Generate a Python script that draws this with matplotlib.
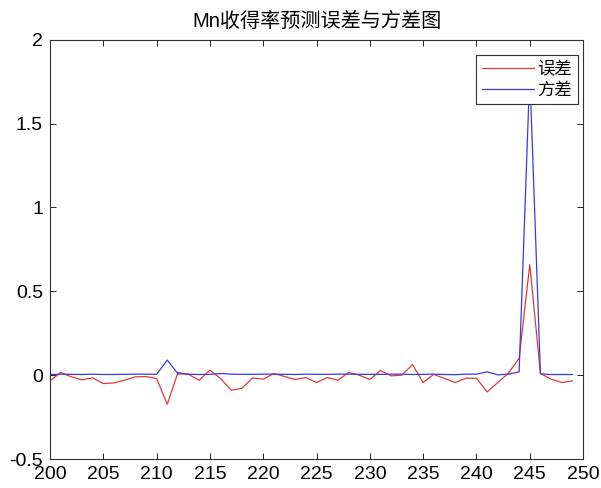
import matplotlib.pyplot as plt

plt.rcParams['font.family'] = ['Liberation Sans', 'Noto Sans CJK SC', 'DejaVu Sans']

# 样本序号 200..249
x = list(range(200, 250))

# 误差
err = [-0.034, 0.016, -0.010, -0.028, -0.016, -0.050, -0.046, -0.030, -0.010, -0.008,
       -0.020, -0.173, 0.016, 0.005, -0.030, 0.030, -0.020, -0.090, -0.078, -0.016,
       -0.024, 0.010, -0.008, -0.026, -0.014, -0.044, -0.014, -0.030, 0.016, 0.000,
       -0.026, 0.028, -0.004, 0.000, 0.063, -0.044, 0.005, -0.020, -0.044, -0.018,
       -0.018, -0.100, -0.044, 0.012, 0.100, 0.660, 0.010, -0.024, -0.044, -0.034]

# 方差
var = [0.004, 0.006, 0.005, 0.004, 0.006, 0.004, 0.004, 0.005, 0.006, 0.006,
       0.005, 0.090, 0.008, 0.006, 0.004, 0.005, 0.010, 0.006, 0.005, 0.005,
       0.006, 0.006, 0.005, 0.004, 0.006, 0.005, 0.005, 0.006, 0.006, 0.005,
       0.005, 0.005, 0.006, 0.006, 0.004, 0.005, 0.006, 0.004, 0.003, 0.006,
       0.006, 0.020, 0.002, 0.006, 0.020, 1.800, 0.008, 0.004, 0.004, 0.004]

fig = plt.figure(figsize=(6.01, 4.88), dpi=100)
ax = fig.add_axes([0.0832, 0.0594, 0.887, 0.859])

ax.plot(x, err, color='#e03a3a', lw=0.9, label='误差')
ax.plot(x, var, color='#3a3ae0', lw=0.9, label='方差')

ax.set_xlim(200, 250)
ax.set_ylim(-0.5, 2)
ax.set_xticks(range(200, 251, 5))
ax.set_yticks([-0.5, 0, 0.5, 1, 1.5, 2])
ax.set_yticklabels(['-0.5', '0', '0.5', '1', '1.5', '2'])
ax.tick_params(direction='in', top=True, right=True, labelsize=14, length=4, width=0.6, pad=5)
for s in ax.spines.values():
    s.set_linewidth(0.8)
    s.set_color('#333333')

ax.set_title('Mn收得率预测误差与方差图', fontsize=14.5, pad=9)
leg = ax.legend(loc='upper right', bbox_to_anchor=(0.9906, 0.964), borderaxespad=0,
                fontsize=12.5, fancybox=False, edgecolor='#333333',
                framealpha=1, handlelength=3.0, handletextpad=0.2, borderpad=0.35,
                labelspacing=0.28)
leg.get_frame().set_linewidth(0.8)

fig.savefig('out.png', dpi=100)
